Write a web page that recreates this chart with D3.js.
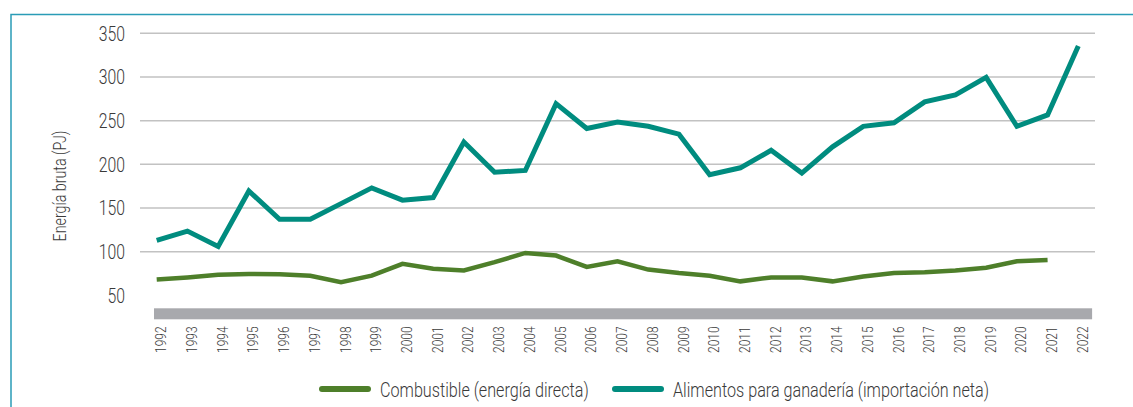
<!DOCTYPE html>
<meta charset="utf-8">
<script src="https://d3js.org/d3.v7.min.js"></script>
<style>
  body { margin: 0; background: #fff; }
  text { font-family: Roboto, "Liberation Sans", sans-serif; font-weight: 300; fill: #3a3a3a; }
</style>
<div id="chart"></div>
<script>

    // data
    var years = d3.range(1992, 2023);
    var alimentos = [113, 123.5, 106, 169.5, 137, 137, 155, 173, 159, 162, 225.5,
                     191, 193, 269.5, 241, 248.5, 243.5, 234.5, 188, 196, 216,
                     190, 220, 243.5, 247.5, 271.5, 279.5, 299.5, 243.5, 256.5, 335.5];
    var combustible = [68, 70.5, 73.5, 74.5, 74, 72.5, 65, 72.5, 86, 80.5, 78.5,
                       88, 98.5, 95.5, 82.5, 89, 79.5, 75.5, 72.5, 66, 70.5,
                       70.5, 66, 71.5, 75.5, 76.5, 78.5, 81.5, 89, 90.5];
    var yTicks = [50, 100, 150, 200, 250, 300, 350];
    var gridTicks = [100, 150, 200, 250, 300, 350];
    var seriesNames = ["Combustible (energía directa)", "Alimentos para ganadería (importación neta)"];

    var W = 1133, H = 407;
    var green = "#4e7f2a", teal = "#008c7f";
    var squeeze = 0.77;   // the original font is a condensed face

    function condense(sel) {
        sel.each(function() {
            var w = this.getComputedTextLength();
            d3.select(this).attr("textLength", w * squeeze).attr("lengthAdjust", "spacingAndGlyphs");
        });
    }

    var svg = d3.select("#chart")
        .append("svg")
        .attr("width", W)
        .attr("height", H);

    // frame lines (top and left)
    svg.append("path")
        .attr("d", "M11,407V14.5H1133")
        .style("fill", "none")
        .style("stroke", "#2a9cb6")
        .style("stroke-width", 1.5);

    var x = d3.scaleLinear().domain([1992, 2022]).range([156.7, 1078.3]);
    var y = d3.scaleLinear().domain([0, 350]).range([339, 33.3]);

    // grid
    svg.selectAll(".grid")
        .data(gridTicks).enter()
        .append("line")
        .attr("class", "grid")
        .attr("x1", 140).attr("x2", 1095)
        .attr("y1", function(d) { return y(d); })
        .attr("y2", function(d) { return y(d); })
        .style("stroke", "#c2c2c2")
        .style("stroke-width", 1.5);

    // y tick labels
    svg.selectAll(".ytick")
        .data(yTicks).enter()
        .append("text")
        .attr("class", "ytick")
        .attr("x", 125)
        .attr("y", function(d) { return y(d); })
        .attr("dy", "0.36em")
        .attr("text-anchor", "end")
        .style("font-size", "20.5px")
        .text(function(d) { return d; })
        .call(condense);

    // y title
    svg.append("text")
        .attr("transform", "translate(60," + 186 + ") rotate(-90)")
        .attr("text-anchor", "middle")
        .attr("dy", "0.35em")
        .style("font-size", "18.5px")
        .text("Energía bruta (PJ)")
        .call(condense);

    // grey axis band
    svg.append("rect")
        .attr("x", x(1992) - 2.7)
        .attr("width", x(2022) - x(1992) + 16.5)
        .attr("y", 308.3)
        .attr("height", 11)
        .style("fill", "#a8a9ad");

    // x tick labels
    svg.selectAll(".xtick")
        .data(years).enter()
        .append("text")
        .attr("class", "xtick")
        .attr("transform", function(d) { return "translate(" + (x(d) + 4) + ",326.5) rotate(-90)"; })
        .attr("text-anchor", "end")
        .attr("dy", "0.36em")
        .style("font-size", "15.5px")
        .text(function(d) { return d; })
        .call(condense);

    // lines
    var line = d3.line()
        .x(function(d, i) { return x(years[i]); })
        .y(function(d) { return y(d); });

    svg.append("path")
        .datum(combustible)
        .attr("d", line)
        .style("fill", "none")
        .style("stroke", green)
        .style("stroke-width", 4.5)
        .style("stroke-linejoin", "miter");

    svg.append("path")
        .datum(alimentos)
        .attr("d", line)
        .style("fill", "none")
        .style("stroke", teal)
        .style("stroke-width", 5)
        .style("stroke-linejoin", "miter");

    // legend
    var legend = [
        {name: seriesNames[0], color: green, x0: 320},
        {name: seriesNames[1], color: teal, x0: 613}
    ];
    var lg = svg.selectAll(".legend")
        .data(legend).enter()
        .append("g")
        .attr("class", "legend")
        .attr("transform", function(d) { return "translate(" + d.x0 + ",389)"; });

    lg.append("line")
        .attr("x1", 2).attr("x2", 48)
        .style("stroke", function(d) { return d.color; })
        .style("stroke-width", 6)
        .style("stroke-linecap", "round");

    lg.append("text")
        .attr("x", 60)
        .attr("dy", "0.36em")
        .style("font-size", "21px")
        .text(function(d) { return d.name; })
        .call(condense);

</script>
